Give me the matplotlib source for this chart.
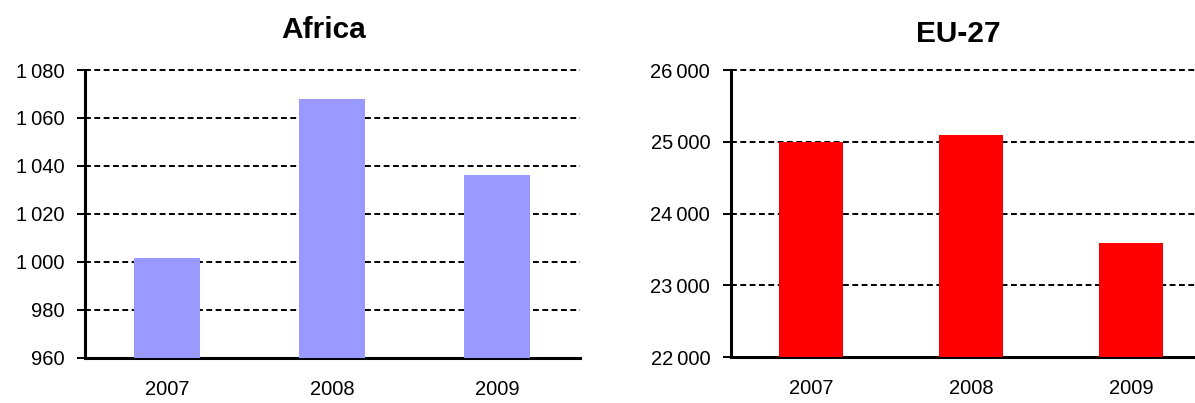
import matplotlib.pyplot as plt
from matplotlib.ticker import FuncFormatter

plt.rcParams['font.family'] = ['Liberation Sans', 'DejaVu Sans']

years = ['2007', '2008', '2009']
africa = [1001.6, 1068, 1036.3]
eu27 = [24990, 25100, 23590]


def spaced(v, pos):
    return '{:,.0f}'.format(v).replace(',', '\u2009')


def style(ax, lo, hi, step):
    ax.set_xlim(-0.5, 2.5)
    ax.set_ylim(lo, hi)
    ax.set_yticks(range(lo, hi + 1, step))
    ax.yaxis.set_major_formatter(FuncFormatter(spaced))
    ax.grid(axis='y', color='black', linestyle=(0, (3, 1.8)), linewidth=1.4)
    for gl in ax.get_ygridlines():
        gl.set_clip_on(False)
    ax.set_axisbelow(True)
    for s in ['top', 'right']:
        ax.spines[s].set_visible(False)
    for s in ['left', 'bottom']:
        ax.spines[s].set_linewidth(2.2)
    ax.tick_params(axis='y', length=6, width=1.4, labelsize=14.5, pad=9)
    ax.tick_params(axis='x', length=0, labelsize=14.5, pad=16)


fig = plt.figure(figsize=(11.95, 4.03), dpi=100)

ax1 = fig.add_axes([0.0711, 0.1117, 0.4142, 0.7146])
ax1.bar(years, africa, width=0.4, color='#9999FF', zorder=3)
style(ax1, 960, 1080, 20)
fig.text(0.271, 0.925, 'Africa', ha='center', va='center',
         fontsize=21.5, fontweight='bold')

ax2 = fig.add_axes([0.6117, 0.1141, 0.4017, 0.7122])
ax2.bar(years, eu27, width=0.4, color='#FF0000', zorder=3)
style(ax2, 22000, 26000, 1000)
fig.text(0.802, 0.915, 'EU-27', ha='center', va='center',
         fontsize=21.5, fontweight='bold')

fig.savefig('out.png', dpi=100)
